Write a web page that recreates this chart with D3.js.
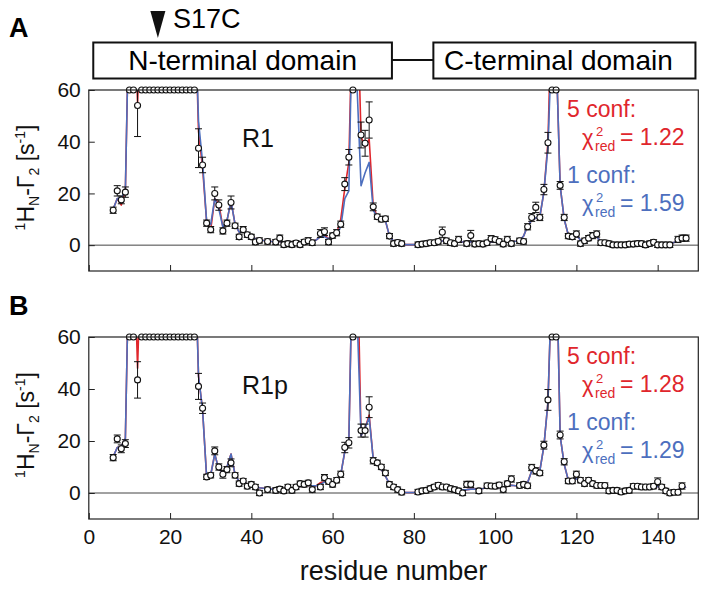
<!DOCTYPE html>
<meta charset="utf-8">
<script src="https://d3js.org/d3.v7.min.js"></script>
<style>
  body { margin: 0; background: #fff; }
  text { font-family: "Liberation Sans", Arial, Helvetica, sans-serif; }
</style>
<div id="my_dataviz"></div>
<script>

  // residue numbers on the x axis (one slot per residue, null = no point)
  var residues = d3.range(6, 148);

  // panel A (R1): measured rates, error bars, 5-conformer fit, 1-conformer fit
  var obsA = [
    13.5, 21, 17.5, 20.5, 60, 60, 54, 60, 60, 60,
    60, 60, 60, 60, 60, 60, 60, 60, 60, 60,
    60, 37.5, 31, 8.5, 6, 20, 15.5, 5.5, 8.5, 16.5,
    7.5, 3.2, 6, 4, 3.2, 1.2, 1.8, null, 1.4, null,
    1.2, 2.7, 0.2, 0.6, 0.2, 0.8, 0.2, 1.2, 1.7, 0.9,
    null, 4.5, 5.2, 1.2, 3.7, 4.8, 8.1, 23.6, 34, 60,
    null, 42.6, 39.4, 48.4, 14.8, 11, 10, 10.2, 3.5, 0.6,
    1, 0.6, null, null, null, 0.2, 0.4, 0.6, 0.9, 0.9,
    1.4, 5.0, 1.7, 0.9, 0.6, 2.2, null, 0.6, 3.7, 0.4,
    0.6, 0.4, 0.9, 2.5, 2.2, 1.4, 0.4, 2.2, 0.6, null,
    1.7, 1.4, 7.1, 10.7, 14.6, 10.7, 21.5, 39.6, 60, 60,
    23.1, 10.7, 3.5, 3.2, 4.3, 0.6, 1.7, 2.7, 3.7, 4.3,
    0.9, 0.9, 0.6, 0.1, 0.1, 0.1, 0.1, 0.4, 0.4, 0.6,
    0.6, 0.1, 0.6, 1.1, 0.1, 0.1, 0.1, 0.1, null, 2.2,
    2.7, 2.7
  ];
  var errA = [
    1.2, 2, 1.5, 2, 0, 0, 12, 0, 0, 0,
    0, 0, 0, 0, 0, 0, 0, 0, 0, 0,
    0, 7.5, 3, 1.2, 1.2, 2.5, 2, 1.2, 1.2, 2.5,
    1, 1, 1.2, 1, 1, 1, 1, null, 1, null,
    1, 1.2, 1, 1, 1, 1, 1, 1, 1.2, 1,
    null, 1.5, 1.5, 1, 1, 1.2, 1.2, 2.5, 3, 0,
    null, 5, 5, 7, 1.5, 1, 1, 1, 1, 1,
    1, 1, null, null, null, 1, 1, 1, 1, 1,
    1, 2, 1, 1, 1, 1.2, null, 1, 2, 1,
    1, 1, 1, 1.2, 1, 1, 1, 1.2, 1, null,
    1, 1, 1.2, 1.5, 2, 1.2, 2, 4, 0, 0,
    1.5, 1.2, 1, 1, 1.2, 1, 1, 1, 1.2, 1.2,
    1, 1, 1, 1, 1, 1, 1, 1, 1, 1,
    1, 1, 1, 1, 1, 1, 1, 1, null, 1.2,
    1.2, 1.2
  ];
  var fit5A = [
    14, 18, 15.5, 21, 100, 100, 55, 100, 100, 100,
    100, 100, 100, 100, 100, 100, 100, 100, 100, 100,
    100, 44, 30, 9, 6, 18, 16, 7, 9.5, 17,
    8, 5, 5.5, 4, 3.5, 2.5, 2, 1.8, 1.5, 1.4,
    1.3, 1.4, 1, 1, 1, 1.1, 1.2, 1.4, 2.5, 1.6,
    2, 3.3, 3.9, 2.5, 3.5, 4.5, 10, 22, 32, 100,
    100, 42, 38, 41, 15, 11, 10, 9.5, 3.5, 1.5,
    1, 0.5, 0.2, 0.2, 0.2, 0.3, 0.5, 0.6, 0.8, 1.0,
    1.2, 1.6, 1.8, 1.5, 1.3, 1.2, 1.2, 1.2, 1.3, 1.1,
    1.0, 1.0, 1.2, 1.3, 1.2, 1.1, 1.2, 1.3, 1.4, 1.5,
    1.7, 3.5, 7.5, 9.5, 10.5, 11, 20.5, 40, 100, 76,
    23, 10, 4, 3.5, 3.8, 2, 2.2, 2.8, 3.2, 3.2,
    1.5, 1, 0.6, 0.3, 0.2, 0.2, 0.2, 0.3, 0.3, 0.4,
    0.4, 0.3, 0.4, 0.6, 0.4, 0.3, 0.3, 0.4, 1, 2,
    2.5, 2.7
  ];
  var fit1A = [
    14, 18, 18.5, 21, 100, 100, 80, 100, 100, 100,
    100, 100, 100, 100, 100, 100, 100, 100, 100, 100,
    100, 48, 32, 9, 8, 18, 14, 7, 9.5, 17,
    8, 5, 5.5, 4, 3.5, 2.5, 2, 1.8, 1.5, 1.4,
    1.3, 1.4, 1, 1, 1, 1.1, 1.2, 1.4, 1.8, 1.6,
    2, 3.3, 3.2, 2.5, 3.5, 4.5, 7, 18, 21, 100,
    62, 23, 28, 32, 13.5, 11, 10, 9.5, 3.5, 1.5,
    1, 0.5, 0.2, 0.2, 0.2, 0.3, 0.5, 0.6, 0.8, 1.0,
    1.2, 1.6, 1.8, 1.5, 1.3, 1.2, 1.2, 1.2, 1.3, 1.1,
    1.0, 1.0, 1.2, 1.3, 1.2, 1.1, 1.2, 1.3, 1.4, 1.5,
    1.7, 3.5, 7.5, 9.5, 10.5, 11, 20.5, 38, 82, 76,
    23, 10, 4, 3.5, 3.8, 2, 2.2, 2.8, 3.2, 3.2,
    1.5, 1, 0.6, 0.3, 0.2, 0.2, 0.2, 0.3, 0.3, 0.4,
    0.4, 0.3, 0.4, 0.6, 0.4, 0.3, 0.3, 0.4, 1, 2,
    2.5, 2.7
  ];

  // panel B (R1p)
  var obsB = [
    13.6, 20.8, 17, 19, 60, 60, 43.5, 60, 60, 60,
    60, 60, 60, 60, 60, 60, 60, 60, 60, 60,
    60, 41, 32.6, 6.2, 6.8, 16.2, 10, 7.2, 9, 11.6,
    6.8, 3.6, 4.6, 2.6, 3.3, 2.3, 0, null, 1.3, null,
    1, 1.5, 0.8, 2.3, 1, 2.3, 3.6, 3.3, 3.9, 1.3,
    null, 2.3, 5.9, 4.4, 3.3, 4.9, 7.2, 17.5, 19.3, 60,
    null, 24, 24, 33, 12.4, 11.6, 10, 7.7, 3.3, 2.3,
    1.3, 0.3, null, null, null, 0.4, 0.8, 1.0, 1.7, 2.3,
    3.0, 2.3, 2.3, 1.7, 1.3, 0.8, 0.0, 3.3, 3.3, null,
    0.8, null, 2.8, 2.7, 2.6, 3.1, 1.3, 3.6, 5.4, null,
    2.9, 3.3, 2.8, 9.8, 8.5, 7.7, 18.4, 35.8, 60, 60,
    22.3, 12.0, 4.6, 4.6, 7.2, 4.9, 3.6, 4.9, 3.6, 2.9,
    2.9, 2.9, 0.8, 1.0, 1.0, 0.4, 0.8, 1.0, 2.6, 2.6,
    2.3, 2.3, 2.3, 2.6, 4.3, 2.3, 0.8, 0.0, 0.3, 0.3,
    2.7, null
  ];
  var errB = [
    1.2, 1.5, 1.5, 1.5, 0, 0, 7, 0, 0, 0,
    0, 0, 0, 0, 0, 0, 0, 0, 0, 0,
    0, 5, 2, 1, 1, 1.5, 1.2, 1.5, 1.2, 1.5,
    1, 1, 1, 1, 1, 1, 1, null, 1, null,
    1, 1, 1, 1, 1, 1, 1, 1, 1, 1,
    null, 1, 1.2, 1, 1, 1, 1.2, 2, 2, 0,
    null, 2.5, 2.5, 4, 1.2, 1, 1, 1, 1, 1,
    1, 1, null, null, null, 1, 1, 1, 1, 1,
    1, 1, 1, 1, 1, 1, 1, 1.2, 1.2, null,
    1, null, 1, 1, 1, 1, 1, 1, 1.2, null,
    1, 1, 1, 1.2, 1.2, 1, 1.5, 4, 0, 0,
    1.5, 1.2, 1, 1, 1.2, 1, 1, 1, 1, 1,
    1, 1, 1, 1, 1, 1, 1, 1, 1, 1,
    1, 1, 1, 1, 1.5, 1, 1, 1, 1, 1,
    1.2, null
  ];
  var fit5B = [
    14, 17.5, 18, 21, 100, 100, 48, 100, 100, 100,
    100, 100, 100, 100, 100, 100, 100, 100, 100, 100,
    100, 45, 32, 6, 7, 15, 9, 8, 10, 15,
    7, 4.5, 4.5, 3.5, 3, 2.5, 2, 1.8, 1.6, 1.5,
    1.5, 1.6, 1.7, 1.9, 2, 2.2, 2.5, 2.8, 3, 2.8,
    2.8, 4, 4.2, 3.8, 3.5, 4.5, 7, 16, 20, 100,
    100, 22, 25, 30, 13, 11.5, 9, 6.5, 3.5, 2,
    1, 0.3, 0.2, 0.2, 0.2, 0.3, 0.6, 1.0, 1.5, 2.0,
    2.4, 2.4, 2.2, 1.8, 1.5, 1.2, 1.2, 1.3, 1.5, 1.5,
    1.5, 1.7, 2.0, 2.0, 2.0, 2.0, 2.2, 2.6, 3.0, 2.8,
    2.6, 3.2, 4, 8.5, 8, 8.5, 18, 35, 85, 98,
    22, 11, 5, 4.5, 5.5, 4.5, 4, 4, 3.5, 3,
    2.8, 2.5, 1.5, 1.2, 1, 1, 1, 1.3, 2, 2.2,
    2.2, 2.2, 2.2, 2.4, 2.5, 2, 1.2, 0.8, 0.8, 1.2,
    2, 2.3
  ];
  var fit1B = [
    14, 17.5, 18, 21, 100, 100, 100, 100, 100, 100,
    100, 100, 100, 100, 100, 100, 100, 100, 100, 100,
    100, 45, 32, 6, 7, 15, 9, 8, 10, 15,
    7, 4.5, 4.5, 3.5, 3, 2.5, 2, 1.8, 1.6, 1.5,
    1.5, 1.6, 1.7, 1.9, 2, 2.2, 2.5, 2.8, 3, 2.8,
    2.8, 3.3, 4.2, 3.8, 3.5, 4.5, 7, 16, 20, 100,
    70, 22, 25, 29, 13, 11.5, 9, 6.5, 3.5, 2,
    1, 0.3, 0.2, 0.2, 0.2, 0.3, 0.6, 1.0, 1.5, 2.0,
    2.4, 2.4, 2.2, 1.8, 1.5, 1.2, 1.2, 1.3, 1.5, 1.5,
    1.5, 1.7, 2.0, 2.0, 2.0, 2.0, 2.2, 2.6, 3.0, 2.8,
    2.6, 3.2, 4, 8.5, 8, 8.5, 18, 35, 85, 98,
    22, 11, 5, 4.5, 5.5, 4.5, 4, 4, 3.5, 3,
    2.8, 2.5, 1.5, 1.2, 1, 1, 1, 1.3, 2, 2.2,
    2.2, 2.2, 2.2, 2.4, 2.5, 2, 1.2, 0.8, 0.8, 1.2,
    2, 2.3
  ];

  var xTicks = [0, 20, 40, 60, 80, 100, 120, 140];
  var yTicks = [0, 20, 40, 60];
  var chiA = ["1.22", "1.59"];
  var chiB = ["1.28", "1.29"];

  // domain cartoon (residue ranges) and the labelling site
  var nDomain = [1.1, 74.6];
  var cDomain = [84.8, 149.3];
  var site = 17;

  var red = "#e0262c", blue = "#4d6fbe";

  var svg = d3.select("#my_dataviz")
    .append("svg")
    .attr("width", 708)
    .attr("height", 589);

  var x = d3.scaleLinear().domain([0, 150]).range([88.8, 698.3]);

  // ---- header: S17C marker and domain boxes
  var xs = x(site);
  svg.append("path")
    .attr("d", "M" + (xs - 7.5) + ",11L" + (xs + 7.5) + ",11L" + xs + ",38Z")
    .attr("fill", "#111");
  svg.append("text").attr("x", 173).attr("y", 28)
    .attr("font-size", 27).text("S17C");
  svg.append("text").attr("x", 9).attr("y", 37)
    .attr("font-size", 27).attr("font-weight", "bold").text("A");

  svg.append("line")
    .attr("x1", x(nDomain[1])).attr("x2", x(cDomain[0]))
    .attr("y1", 60).attr("y2", 60)
    .attr("stroke", "#111").attr("stroke-width", 2);
  [[nDomain, "N-terminal domain", 0], [cDomain, "C-terminal domain", -6]].forEach(function (b) {
    svg.append("rect")
      .attr("x", x(b[0][0])).attr("y", 42.5)
      .attr("width", x(b[0][1]) - x(b[0][0])).attr("height", 36)
      .attr("fill", "#fff").attr("stroke", "#111").attr("stroke-width", 2);
    svg.append("text")
      .attr("x", (x(b[0][0]) + x(b[0][1])) / 2 + b[2]).attr("y", 69.5)
      .attr("text-anchor", "middle").attr("font-size", 28).text(b[1]);
  });

  // ---- one panel
  function drawPanel(top, bottom, obs, err, fit5, fit1, tag, chi, letter, withLabels) {
    var y = d3.scaleLinear().domain([-10, 60]).range([bottom, top]);
    var g = svg.append("g");
    var id = "clip" + letter;

    g.append("clipPath").attr("id", id)
      .append("rect")
      .attr("x", x(0)).attr("y", top)
      .attr("width", x(150) - x(0)).attr("height", bottom - top);

    // zero line
    g.append("line")
      .attr("x1", x(0)).attr("x2", x(150))
      .attr("y1", y(0)).attr("y2", y(0))
      .attr("stroke", "#444").attr("stroke-width", 1);

    // fitted curves
    var line = d3.line()
      .x(function (d) { return x(d[0]); })
      .y(function (d) { return y(d[1]); });
    [[fit5, red], [fit1, blue]].forEach(function (f) {
      g.append("path")
        .datum(residues.map(function (r, i) { return [r, f[0][i]]; }))
        .attr("clip-path", "url(#" + id + ")")
        .attr("fill", "none")
        .attr("stroke", f[1])
        .attr("stroke-width", 1.6)
        .attr("stroke-linejoin", "round")
        .attr("d", line);
    });

    // measured points
    var pts = residues.map(function (r, i) { return { r: r, v: obs[i], e: err[i] }; })
      .filter(function (d) { return d.v != null; });

    var eb = g.append("g").attr("stroke", "#111").attr("stroke-width", 1);
    pts.filter(function (d) { return d.e > 0; }).forEach(function (d) {
      var hi = Math.min(d.v + d.e, 60), lo = d.v - d.e, cx = x(d.r);
      eb.append("line").attr("x1", cx).attr("x2", cx).attr("y1", y(hi)).attr("y2", y(lo));
      if (d.v + d.e <= 60)
        eb.append("line").attr("x1", cx - 3.5).attr("x2", cx + 3.5).attr("y1", y(hi)).attr("y2", y(hi));
      eb.append("line").attr("x1", cx - 3.5).attr("x2", cx + 3.5).attr("y1", y(lo)).attr("y2", y(lo));
    });

    g.selectAll(".pt").data(pts).enter()
      .append("circle")
      .attr("cx", function (d) { return x(d.r); })
      .attr("cy", function (d) { return y(d.v); })
      .attr("r", 3)
      .attr("fill", "#fff")
      .attr("stroke", "#111")
      .attr("stroke-width", 1.1);

    // frame
    g.append("rect")
      .attr("x", x(0)).attr("y", top)
      .attr("width", x(150) - x(0)).attr("height", bottom - top)
      .attr("fill", "none").attr("stroke", "#222").attr("stroke-width", 1.2);

    // axes (ticks point inward)
    var ya = g.append("g")
      .attr("transform", "translate(" + x(0) + ",0)")
      .call(d3.axisLeft(y).tickValues(yTicks).tickSize(-6).tickPadding(8));
    var xa = g.append("g")
      .attr("transform", "translate(0," + bottom + ")")
      .call(d3.axisBottom(x).tickValues(xTicks).tickSize(-6).tickPadding(10)
        .tickFormat(withLabels ? d3.format("d") : function () { return ""; }));
    [ya, xa].forEach(function (a) {
      a.select(".domain").remove();
      a.selectAll("line").attr("stroke", "#222");
      a.selectAll("text").attr("font-size", 21).attr("fill", "#111")
        .attr("font-family", "'Liberation Sans', Arial, sans-serif");
    });

    // y axis title
    var cy = (top + bottom) / 2 - 3;
    var t = g.append("text")
      .attr("transform", "translate(34," + cy + ") rotate(-90)")
      .attr("text-anchor", "middle").attr("font-size", 23).attr("fill", "#111");
    t.append("tspan").attr("font-size", 14).attr("dy", -9).text("1");
    t.append("tspan").attr("dy", 9).text("H");
    t.append("tspan").attr("font-size", 14).attr("dy", 5).text("N");
    t.append("tspan").attr("dy", -5).text("-Γ");
    t.append("tspan").attr("font-size", 14).attr("dy", 5).text("2");
    t.append("tspan").attr("dy", -5).text(" [s");
    t.append("tspan").attr("font-size", 14).attr("dy", -9).text("-1");
    t.append("tspan").attr("dy", 9).text("]");

    // panel tag
    g.append("text").attr("x", 242).attr("y", top + 57)
      .attr("font-size", 25).attr("fill", "#111").text(tag);

    // legend / chi-square values
    [[red, "5 conf:", chi[0], 27], [blue, "1 conf:", chi[1], 93]].forEach(function (l) {
      var b = top + l[3];
      g.append("text").attr("x", 567).attr("y", b)
        .attr("font-size", 23).attr("fill", l[0]).text(l[1]);
      var b2 = b + 28;
      g.append("text").attr("x", 582).attr("y", b2)
        .attr("font-size", 22).attr("fill", l[0])
        .attr("font-family", "'DejaVu Sans', sans-serif").text("χ");
      g.append("text").attr("x", 596).attr("y", b2 - 9)
        .attr("font-size", 13).attr("fill", l[0]).text("2");
      g.append("text").attr("x", 595).attr("y", b2 + 6)
        .attr("font-size", 14).attr("fill", l[0]).text("red");
      g.append("text").attr("x", 620).attr("y", b2)
        .attr("font-size", 23).attr("fill", l[0]).text("= " + l[2]);
    });

    if (letter === "B") {
      g.append("text").attr("x", 9).attr("y", top - 22)
        .attr("font-size", 27).attr("font-weight", "bold").text("B");
    }
  }

  drawPanel(90, 271, obsA, errA, fit5A, fit1A, "R1", chiA, "A", false);
  drawPanel(337, 519, obsB, errB, fit5B, fit1B, "R1p", chiB, "B", true);

  svg.append("text")
    .attr("x", (x(0) + x(150)) / 2).attr("y", 580)
    .attr("text-anchor", "middle").attr("font-size", 27).attr("fill", "#111")
    .text("residue number");

</script>
